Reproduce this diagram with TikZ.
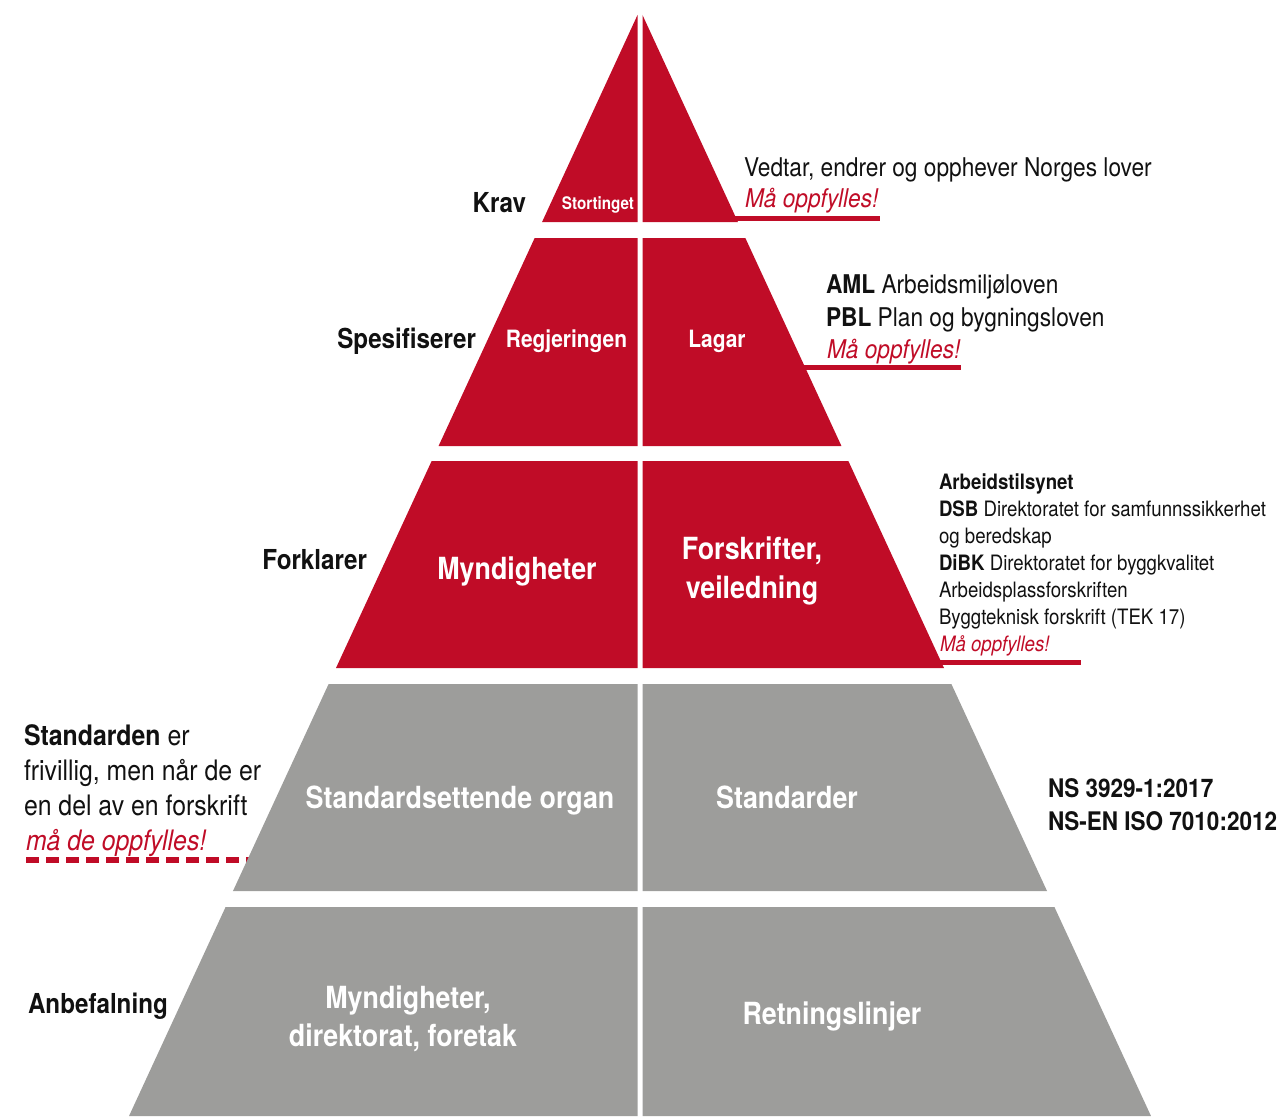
\documentclass[tikz,border=0pt]{standalone}
\usepackage{fontspec}
\setmainfont{TeX Gyre Heros}[FakeStretch=0.88]
\definecolor{pred}{RGB}{192,12,39}
\definecolor{pgray}{RGB}{157,157,155}
\definecolor{ptext}{RGB}{17,17,17}
\begin{document}
\begin{tikzpicture}[x=1pt,y=-1pt,
  declare function={xl(\t)=640-0.462*(\t-10); xr(\t)=640+0.462*(\t-10);},
  every node/.style={inner sep=0pt, outer sep=0pt},
  lbl/.style={font=\bfseries\fontsize{27.5}{30}\selectfont, text=ptext, anchor=base east},
  inw/.style={font=\bfseries\fontsize{30.5}{34}\selectfont, text=white, anchor=base},
  inws/.style={font=\bfseries\fontsize{23.8}{28}\selectfont, text=white, anchor=base},
  txtA/.style={font=\fontsize{25.8}{30}\selectfont, text=ptext, anchor=base west},
  txtB/.style={font=\fontsize{21.2}{24}\selectfont, text=ptext, anchor=base west},
  txtC/.style={font=\fontsize{28.2}{30}\selectfont, text=ptext, anchor=base west},
  mustA/.style={font=\itshape\fontsize{25.8}{30}\selectfont, text=pred, anchor=base west},
  mustB/.style={font=\itshape\fontsize{21.2}{24}\selectfont, text=pred, anchor=base west},
  mustC/.style={font=\itshape\fontsize{28.2}{30}\selectfont, text=pred, anchor=base west},
  uline/.style={draw=pred, line width=5pt},
  dline/.style={draw=pred, line width=6pt, dash pattern=on 13pt off 7pt}
]
\useasboundingbox (0,0) rectangle (1284,1116);

% dashed line (drawn first, partly under the gray level)
\coordinate (d4s) at (26,860);
\coordinate (d4e) at ({xl(860)+4},860);
\draw[dline] (d4s) -- (d4e);

% ---- level 1 (red)
\fill[pred] (637.5,15) -- ({xl(222)},222) -- (637.5,222) -- cycle;
\fill[pred] (642.5,15) -- (642.5,222) -- ({xr(222)},222) -- cycle;
% ---- level 2 (red)
\fill[pred] ({xl(238)},238) -- (637.5,238) -- (637.5,446) -- ({xl(446)},446) -- cycle;
\fill[pred] (642.5,238) -- ({xr(238)},238) -- ({xr(446)},446) -- (642.5,446) -- cycle;
% ---- level 3 (red)
\fill[pred] ({xl(461)},461) -- (637.5,461) -- (637.5,668) -- ({xl(668)},668) -- cycle;
\fill[pred] (642.5,461) -- ({xr(461)},461) -- ({xr(668)},668) -- (642.5,668) -- cycle;
% ---- level 4 (gray)
\fill[pgray] ({xl(684)},684) -- (637.5,684) -- (637.5,891) -- ({xl(891)},891) -- cycle;
\fill[pgray] (642.5,684) -- ({xr(684)},684) -- ({xr(891)},891) -- (642.5,891) -- cycle;
% ---- level 5 (gray)
\fill[pgray] ({xl(907)},907) -- (637.5,907) -- (637.5,1116) -- ({xl(1116)},1116) -- cycle;
\fill[pgray] (642.5,907) -- ({xr(907)},907) -- ({xr(1116)},1116) -- (642.5,1116) -- cycle;

% underlines
\coordinate (u1s) at ({xr(218)-3},218);
\coordinate (u1e) at (880,218);
\draw[uline] (u1s) -- (u1e);
\coordinate (u2s) at ({xr(367)-3},367);
\coordinate (u2e) at (961,367);
\draw[uline] (u2s) -- (u2e);
\coordinate (u3s) at ({xr(662)-3},662);
\coordinate (u3e) at (1081,662);
\draw[uline] (u3s) -- (u3e);

% ---- level 1 texts
\node[lbl] (krav) at (526,212) {Krav};
\node[inw, font=\bfseries\fontsize{17.3}{20}\selectfont] (stort) at (598,209.5) {Stortinget};
\node[txtA] (vedtar) at (744,176) {Vedtar, endrer og opphever Norges lover};
\node[mustA] (must1) at (745,207) {Må oppfylles!};

% ---- level 2 texts
\node[lbl] (spes) at (476,348) {Spesifiserer};
\node[inws] (regj) at (566.5,347) {Regjeringen};
\node[inws] (lagar) at (717,347) {Lagar};
\node[txtA] (aml) at (826,293) {\textbf{AML} Arbeidsmiljøloven};
\node[txtA] (pbl) at (826,326) {\textbf{PBL} Plan og bygningsloven};
\node[mustA] (must2) at (827,358) {Må oppfylles!};

% ---- level 3 texts
\node[lbl] (fork) at (367,569.5) {Forklarer};
\node[inw] (mynd) at (517,579) {Myndigheter};
\node[inw] (forsk1) at (752,559) {Forskrifter,};
\node[inw] (forsk2) at (752,598) {veiledning};
\node[txtB] (r3a) at (939,489.5) {\textbf{Arbeidstilsynet}};
\node[txtB] (r3b) at (939,516.5) {\textbf{DSB} Direktoratet for samfunnssikkerhet};
\node[txtB] (r3c) at (939,543.5) {og beredskap};
\node[txtB] (r3d) at (939,570.5) {\textbf{DiBK} Direktoratet for byggkvalitet};
\node[txtB] (r3e) at (939,597.5) {Arbeidsplassforskriften};
\node[txtB] (r3f) at (939,624.5) {Byggteknisk forskrift (TEK 17)};
\node[mustB] (must3) at (940,651.5) {Må oppfylles!};

% ---- level 4 texts
\node[inw] (sorg) at (460,808) {Standardsettende organ};
\node[inw] (stds) at (787,808) {Standarder};
\node[txtA, font=\bfseries\fontsize{25.6}{30}\selectfont] (ns1) at (1048,797) {NS 3929-1:2017};
\node[txtA, font=\bfseries\fontsize{25.6}{30}\selectfont] (ns2) at (1048,830) {NS-EN ISO 7010:2012};
\node[txtC] (l4a) at (24,745) {\textbf{Standarden} er};
\node[txtC] (l4b) at (24,780) {frivillig, men når de er};
\node[txtC] (l4c) at (24,815) {en del av en forskrift};
\node[mustC] (must4) at (26,850) {må de oppfylles!};

% ---- level 5 texts
\node[lbl, anchor=base west] (anbe) at (28,1013) {Anbefalning};
\node[inw] (m5a) at (408,1008) {Myndigheter,};
\node[inw] (m5b) at (403,1046) {direktorat, foretak};
\node[inw] (retn) at (832,1024) {Retningslinjer};
\end{tikzpicture}
\end{document}
